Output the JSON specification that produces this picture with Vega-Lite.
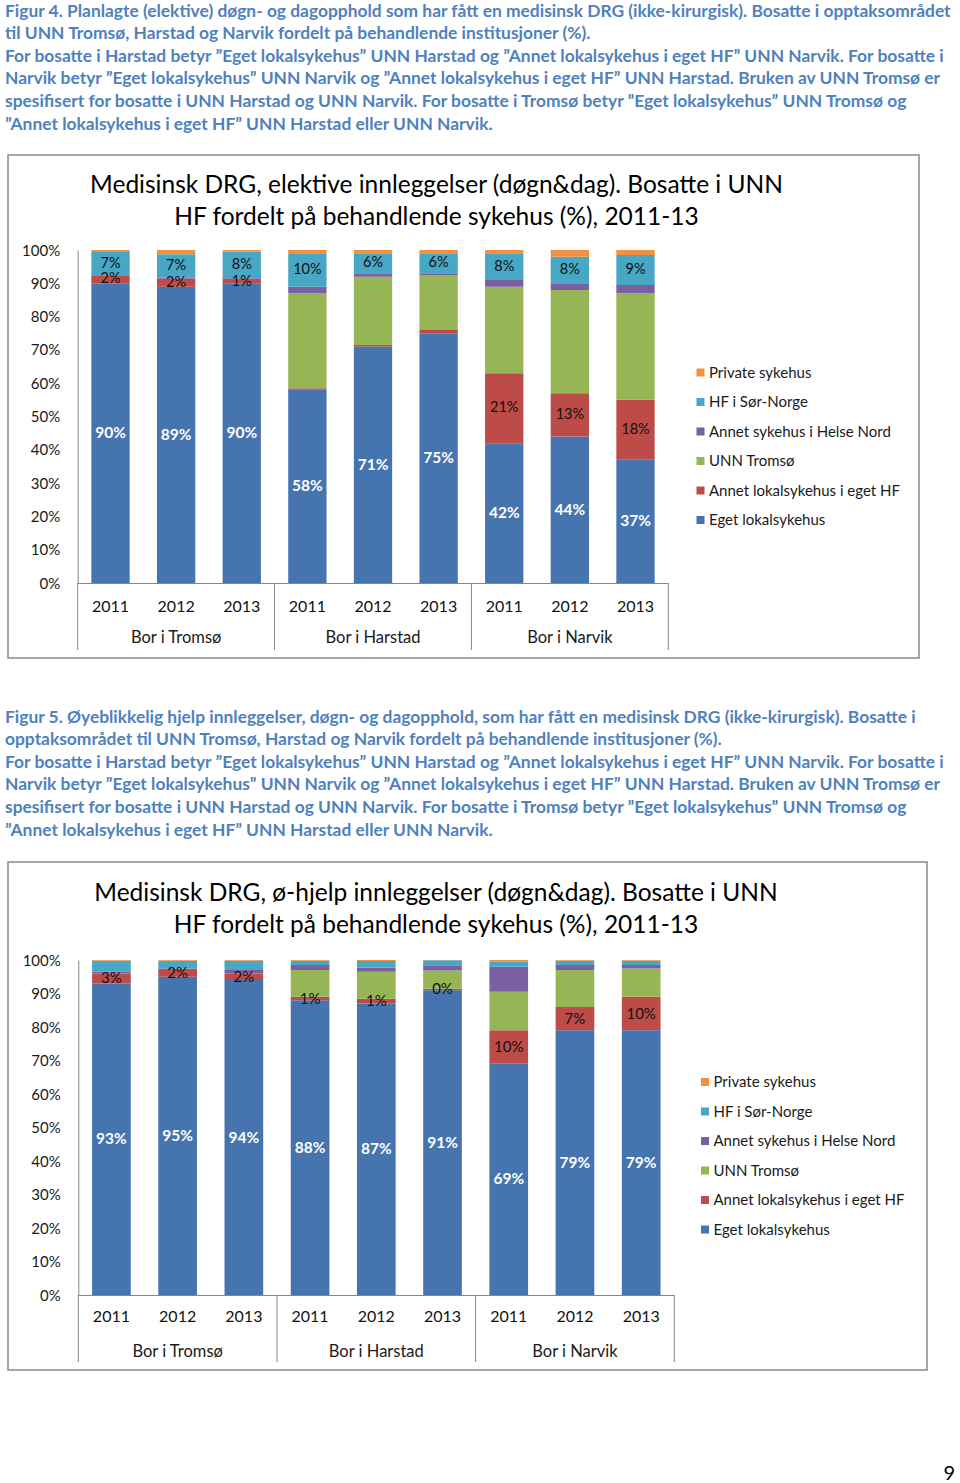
{
  "$schema": "https://vega.github.io/schema/vega-lite/v6.json",
  "padding": {"left": 5, "top": 0, "right": 0, "bottom": 0},
  "background": "white",
  "spacing": 0,
  "bounds": "flush",
  "resolve": {"scale": {"color": "independent"}, "legend": {"color": "independent"}},
  "config": {"font": "Lato", "view": {"stroke": null}},
  "datasets": {
    "elek": [
      {"key": "Tromsø 2011", "cat": "Eget lokalsykehus", "o": 1, "v": 0.90},
      {"key": "Tromsø 2011", "cat": "Annet lokalsykehus i eget HF", "o": 2, "v": 0.024},
      {"key": "Tromsø 2011", "cat": "UNN Tromsø", "o": 3, "v": 0},
      {"key": "Tromsø 2011", "cat": "Annet sykehus i Helse Nord", "o": 4, "v": 0},
      {"key": "Tromsø 2011", "cat": "HF i Sør-Norge", "o": 5, "v": 0.07},
      {"key": "Tromsø 2011", "cat": "Private sykehus", "o": 6, "v": 0.006},
      {"key": "Tromsø 2012", "cat": "Eget lokalsykehus", "o": 1, "v": 0.89},
      {"key": "Tromsø 2012", "cat": "Annet lokalsykehus i eget HF", "o": 2, "v": 0.024},
      {"key": "Tromsø 2012", "cat": "UNN Tromsø", "o": 3, "v": 0},
      {"key": "Tromsø 2012", "cat": "Annet sykehus i Helse Nord", "o": 4, "v": 0.003},
      {"key": "Tromsø 2012", "cat": "HF i Sør-Norge", "o": 5, "v": 0.07},
      {"key": "Tromsø 2012", "cat": "Private sykehus", "o": 6, "v": 0.013},
      {"key": "Tromsø 2013", "cat": "Eget lokalsykehus", "o": 1, "v": 0.90},
      {"key": "Tromsø 2013", "cat": "Annet lokalsykehus i eget HF", "o": 2, "v": 0.01},
      {"key": "Tromsø 2013", "cat": "UNN Tromsø", "o": 3, "v": 0},
      {"key": "Tromsø 2013", "cat": "Annet sykehus i Helse Nord", "o": 4, "v": 0.005},
      {"key": "Tromsø 2013", "cat": "HF i Sør-Norge", "o": 5, "v": 0.08},
      {"key": "Tromsø 2013", "cat": "Private sykehus", "o": 6, "v": 0.005},
      {"key": "Harstad 2011", "cat": "Eget lokalsykehus", "o": 1, "v": 0.58},
      {"key": "Harstad 2011", "cat": "Annet lokalsykehus i eget HF", "o": 2, "v": 0.005},
      {"key": "Harstad 2011", "cat": "UNN Tromsø", "o": 3, "v": 0.285},
      {"key": "Harstad 2011", "cat": "Annet sykehus i Helse Nord", "o": 4, "v": 0.02},
      {"key": "Harstad 2011", "cat": "HF i Sør-Norge", "o": 5, "v": 0.10},
      {"key": "Harstad 2011", "cat": "Private sykehus", "o": 6, "v": 0.01},
      {"key": "Harstad 2012", "cat": "Eget lokalsykehus", "o": 1, "v": 0.71},
      {"key": "Harstad 2012", "cat": "Annet lokalsykehus i eget HF", "o": 2, "v": 0.005},
      {"key": "Harstad 2012", "cat": "UNN Tromsø", "o": 3, "v": 0.205},
      {"key": "Harstad 2012", "cat": "Annet sykehus i Helse Nord", "o": 4, "v": 0.01},
      {"key": "Harstad 2012", "cat": "HF i Sør-Norge", "o": 5, "v": 0.06},
      {"key": "Harstad 2012", "cat": "Private sykehus", "o": 6, "v": 0.01},
      {"key": "Harstad 2013", "cat": "Eget lokalsykehus", "o": 1, "v": 0.75},
      {"key": "Harstad 2013", "cat": "Annet lokalsykehus i eget HF", "o": 2, "v": 0.01},
      {"key": "Harstad 2013", "cat": "UNN Tromsø", "o": 3, "v": 0.165},
      {"key": "Harstad 2013", "cat": "Annet sykehus i Helse Nord", "o": 4, "v": 0.005},
      {"key": "Harstad 2013", "cat": "HF i Sør-Norge", "o": 5, "v": 0.06},
      {"key": "Harstad 2013", "cat": "Private sykehus", "o": 6, "v": 0.01},
      {"key": "Narvik 2011", "cat": "Eget lokalsykehus", "o": 1, "v": 0.42},
      {"key": "Narvik 2011", "cat": "Annet lokalsykehus i eget HF", "o": 2, "v": 0.21},
      {"key": "Narvik 2011", "cat": "UNN Tromsø", "o": 3, "v": 0.26},
      {"key": "Narvik 2011", "cat": "Annet sykehus i Helse Nord", "o": 4, "v": 0.02},
      {"key": "Narvik 2011", "cat": "HF i Sør-Norge", "o": 5, "v": 0.08},
      {"key": "Narvik 2011", "cat": "Private sykehus", "o": 6, "v": 0.01},
      {"key": "Narvik 2012", "cat": "Eget lokalsykehus", "o": 1, "v": 0.44},
      {"key": "Narvik 2012", "cat": "Annet lokalsykehus i eget HF", "o": 2, "v": 0.13},
      {"key": "Narvik 2012", "cat": "UNN Tromsø", "o": 3, "v": 0.31},
      {"key": "Narvik 2012", "cat": "Annet sykehus i Helse Nord", "o": 4, "v": 0.02},
      {"key": "Narvik 2012", "cat": "HF i Sør-Norge", "o": 5, "v": 0.08},
      {"key": "Narvik 2012", "cat": "Private sykehus", "o": 6, "v": 0.02},
      {"key": "Narvik 2013", "cat": "Eget lokalsykehus", "o": 1, "v": 0.37},
      {"key": "Narvik 2013", "cat": "Annet lokalsykehus i eget HF", "o": 2, "v": 0.18},
      {"key": "Narvik 2013", "cat": "UNN Tromsø", "o": 3, "v": 0.32},
      {"key": "Narvik 2013", "cat": "Annet sykehus i Helse Nord", "o": 4, "v": 0.025},
      {"key": "Narvik 2013", "cat": "HF i Sør-Norge", "o": 5, "v": 0.09},
      {"key": "Narvik 2013", "cat": "Private sykehus", "o": 6, "v": 0.015}
    ],
    "akutt": [
      {"key": "Tromsø 2011", "cat": "Eget lokalsykehus", "o": 1, "v": 0.93},
      {"key": "Tromsø 2011", "cat": "Annet lokalsykehus i eget HF", "o": 2, "v": 0.03},
      {"key": "Tromsø 2011", "cat": "UNN Tromsø", "o": 3, "v": 0},
      {"key": "Tromsø 2011", "cat": "Annet sykehus i Helse Nord", "o": 4, "v": 0.005},
      {"key": "Tromsø 2011", "cat": "HF i Sør-Norge", "o": 5, "v": 0.033},
      {"key": "Tromsø 2011", "cat": "Private sykehus", "o": 6, "v": 0.002},
      {"key": "Tromsø 2012", "cat": "Eget lokalsykehus", "o": 1, "v": 0.95},
      {"key": "Tromsø 2012", "cat": "Annet lokalsykehus i eget HF", "o": 2, "v": 0.02},
      {"key": "Tromsø 2012", "cat": "UNN Tromsø", "o": 3, "v": 0},
      {"key": "Tromsø 2012", "cat": "Annet sykehus i Helse Nord", "o": 4, "v": 0.005},
      {"key": "Tromsø 2012", "cat": "HF i Sør-Norge", "o": 5, "v": 0.023},
      {"key": "Tromsø 2012", "cat": "Private sykehus", "o": 6, "v": 0.002},
      {"key": "Tromsø 2013", "cat": "Eget lokalsykehus", "o": 1, "v": 0.94},
      {"key": "Tromsø 2013", "cat": "Annet lokalsykehus i eget HF", "o": 2, "v": 0.02},
      {"key": "Tromsø 2013", "cat": "UNN Tromsø", "o": 3, "v": 0},
      {"key": "Tromsø 2013", "cat": "Annet sykehus i Helse Nord", "o": 4, "v": 0.01},
      {"key": "Tromsø 2013", "cat": "HF i Sør-Norge", "o": 5, "v": 0.028},
      {"key": "Tromsø 2013", "cat": "Private sykehus", "o": 6, "v": 0.002},
      {"key": "Harstad 2011", "cat": "Eget lokalsykehus", "o": 1, "v": 0.88},
      {"key": "Harstad 2011", "cat": "Annet lokalsykehus i eget HF", "o": 2, "v": 0.01},
      {"key": "Harstad 2011", "cat": "UNN Tromsø", "o": 3, "v": 0.08},
      {"key": "Harstad 2011", "cat": "Annet sykehus i Helse Nord", "o": 4, "v": 0.015},
      {"key": "Harstad 2011", "cat": "HF i Sør-Norge", "o": 5, "v": 0.013},
      {"key": "Harstad 2011", "cat": "Private sykehus", "o": 6, "v": 0.002},
      {"key": "Harstad 2012", "cat": "Eget lokalsykehus", "o": 1, "v": 0.87},
      {"key": "Harstad 2012", "cat": "Annet lokalsykehus i eget HF", "o": 2, "v": 0.014},
      {"key": "Harstad 2012", "cat": "UNN Tromsø", "o": 3, "v": 0.081},
      {"key": "Harstad 2012", "cat": "Annet sykehus i Helse Nord", "o": 4, "v": 0.012},
      {"key": "Harstad 2012", "cat": "HF i Sør-Norge", "o": 5, "v": 0.02},
      {"key": "Harstad 2012", "cat": "Private sykehus", "o": 6, "v": 0.003},
      {"key": "Harstad 2013", "cat": "Eget lokalsykehus", "o": 1, "v": 0.91},
      {"key": "Harstad 2013", "cat": "Annet lokalsykehus i eget HF", "o": 2, "v": 0.004},
      {"key": "Harstad 2013", "cat": "UNN Tromsø", "o": 3, "v": 0.055},
      {"key": "Harstad 2013", "cat": "Annet sykehus i Helse Nord", "o": 4, "v": 0.015},
      {"key": "Harstad 2013", "cat": "HF i Sør-Norge", "o": 5, "v": 0.015},
      {"key": "Harstad 2013", "cat": "Private sykehus", "o": 6, "v": 0.001},
      {"key": "Narvik 2011", "cat": "Eget lokalsykehus", "o": 1, "v": 0.69},
      {"key": "Narvik 2011", "cat": "Annet lokalsykehus i eget HF", "o": 2, "v": 0.10},
      {"key": "Narvik 2011", "cat": "UNN Tromsø", "o": 3, "v": 0.115},
      {"key": "Narvik 2011", "cat": "Annet sykehus i Helse Nord", "o": 4, "v": 0.075},
      {"key": "Narvik 2011", "cat": "HF i Sør-Norge", "o": 5, "v": 0.015},
      {"key": "Narvik 2011", "cat": "Private sykehus", "o": 6, "v": 0.005},
      {"key": "Narvik 2012", "cat": "Eget lokalsykehus", "o": 1, "v": 0.79},
      {"key": "Narvik 2012", "cat": "Annet lokalsykehus i eget HF", "o": 2, "v": 0.07},
      {"key": "Narvik 2012", "cat": "UNN Tromsø", "o": 3, "v": 0.11},
      {"key": "Narvik 2012", "cat": "Annet sykehus i Helse Nord", "o": 4, "v": 0.015},
      {"key": "Narvik 2012", "cat": "HF i Sør-Norge", "o": 5, "v": 0.013},
      {"key": "Narvik 2012", "cat": "Private sykehus", "o": 6, "v": 0.002},
      {"key": "Narvik 2013", "cat": "Eget lokalsykehus", "o": 1, "v": 0.79},
      {"key": "Narvik 2013", "cat": "Annet lokalsykehus i eget HF", "o": 2, "v": 0.10},
      {"key": "Narvik 2013", "cat": "UNN Tromsø", "o": 3, "v": 0.085},
      {"key": "Narvik 2013", "cat": "Annet sykehus i Helse Nord", "o": 4, "v": 0.01},
      {"key": "Narvik 2013", "cat": "HF i Sør-Norge", "o": 5, "v": 0.013},
      {"key": "Narvik 2013", "cat": "Private sykehus", "o": 6, "v": 0.002}
    ]
  },
  "vconcat": [
    {
      "width": 911, "height": 155,
      "data": {"values": []},
      "mark": "text",
      "title": {
        "text": [
          "Figur 4. Planlagte (elektive) døgn- og dagopphold som har fått en medisinsk DRG (ikke-kirurgisk). Bosatte i opptaksområdet",
          "til UNN Tromsø, Harstad og Narvik fordelt på behandlende institusjoner (%).",
          "For bosatte i Harstad betyr ”Eget lokalsykehus” UNN Harstad og ”Annet lokalsykehus i eget HF” UNN Narvik.  For bosatte i",
          "Narvik betyr ”Eget lokalsykehus” UNN Narvik og ”Annet lokalsykehus i eget HF” UNN Harstad. Bruken av UNN Tromsø er",
          "spesifisert for bosatte i UNN Harstad og UNN Narvik. For bosatte i Tromsø betyr ”Eget lokalsykehus” UNN Tromsø og",
          "”Annet lokalsykehus i eget HF” UNN Harstad eller UNN Narvik."
        ],
        "anchor": "start", "frame": "group", "baseline": "top", "offset": -133, "dx": -3,
        "fontSize": 17.4, "fontWeight": "bold", "color": "#4F81BD", "lineHeight": 22.6, "limit": 2000
      }
    },
    {
      "width": 911, "height": 503,
      "view": {"stroke": "#8a8a8a", "strokeWidth": 1.5},
      "title": {
        "text": ["Medisinsk DRG, elektive innleggelser (døgn&dag). Bosatte i UNN", "HF fordelt på behandlende sykehus (%), 2011-13"],
        "anchor": "middle", "frame": "group", "baseline": "top", "offset": -75, "dx": -27,
        "fontSize": 24.5, "fontWeight": "normal", "color": "#000000", "lineHeight": 32, "limit": 2000
      },
      "layer": [
        {
          "data": {"name": "elek"},
          "transform": [{"stack": "v", "groupby": ["key"], "sort": [{"field": "o", "order": "ascending"}], "as": ["y0", "y1"]}],
          "mark": {"type": "bar"},
          "encoding": {
            "x": {"field": "key", "type": "nominal", "title": null,
              "scale": {"domain": ["Tromsø 2011", "Tromsø 2012", "Tromsø 2013", "Harstad 2011", "Harstad 2012", "Harstad 2013", "Narvik 2011", "Narvik 2012", "Narvik 2013"], "range": [69.7, 660.3], "paddingInner": 0.416, "paddingOuter": 0.208},
              "axis": {"title": null, "labelExpr": "slice(datum.value, -4)", "ticks": false, "tickSize": 0, "labelPadding": 15, "labelFontSize": 16, "labelColor": "#111111", "labelAngle": 0, "domainColor": "#868686", "offset": -75, "grid": false}},
            "y": {"field": "y0", "type": "quantitative", "title": null,
              "scale": {"domain": [0, 1], "range": [428, 95], "nice": false, "zero": false},
              "axis": {"title": null, "values": [0, 0.1, 0.2, 0.3, 0.4, 0.5, 0.6, 0.7, 0.8, 0.9, 1], "format": ".0%", "ticks": false, "tickSize": 0, "labelPadding": 18, "labelFontSize": 15, "labelColor": "#1a1a1a", "domainColor": "#868686", "offset": -69.7, "grid": false}},
            "y2": {"field": "y1"},
            "color": {"field": "cat", "type": "nominal",
              "scale": {"domain": ["Private sykehus", "HF i Sør-Norge", "Annet sykehus i Helse Nord", "UNN Tromsø", "Annet lokalsykehus i eget HF", "Eget lokalsykehus"], "range": ["#F0913F", "#48A7C4", "#7C5FA0", "#96B655", "#BD4B48", "#4674AE"]},
              "legend": {"title": null, "orient": "none", "legendX": 685, "legendY": 210, "symbolType": "square", "symbolSize": 64, "symbolStrokeWidth": 0, "labelFontSize": 15, "labelLimit": 400, "labelColor": "#1a1a1a", "rowPadding": 13.5, "labelOffset": 1, "padding": 0}}
          }
        },
        {
          "data": {"name": "elek"},
          "transform": [
            {"stack": "v", "groupby": ["key"], "sort": [{"field": "o", "order": "ascending"}], "as": ["y0", "y1"]},
            {"calculate": "(datum.y0 + datum.y1) / 2", "as": "ym"},
            {"filter": "datum.cat == 'Eget lokalsykehus'"}
          ],
          "mark": {"type": "text", "color": "white", "fontWeight": "bold", "fontSize": 15.5, "baseline": "middle"},
          "encoding": {
            "x": {"field": "key", "type": "nominal", "title": null},
            "y": {"field": "ym", "type": "quantitative", "title": null},
            "text": {"field": "v", "type": "quantitative", "format": ".0%"}
          }
        },
        {
          "data": {"name": "elek"},
          "transform": [
            {"stack": "v", "groupby": ["key"], "sort": [{"field": "o", "order": "ascending"}], "as": ["y0", "y1"]},
            {"calculate": "(datum.y0 + datum.y1) / 2", "as": "ym"},
            {"filter": "datum.cat == 'HF i Sør-Norge' || (datum.cat == 'Annet lokalsykehus i eget HF' && indexof(datum.key, 'Harstad') < 0)"}
          ],
          "mark": {"type": "text", "color": "#111111", "fontSize": 14.5, "baseline": "middle"},
          "encoding": {
            "x": {"field": "key", "type": "nominal", "title": null},
            "y": {"field": "ym", "type": "quantitative", "title": null},
            "text": {"field": "v", "type": "quantitative", "format": ".0%"}
          }
        },
        {
          "data": {"values": [{"key": "Tromsø 2011"}, {"key": "Harstad 2011"}, {"key": "Narvik 2011"}]},
          "mark": {"type": "rule", "color": "#868686", "strokeWidth": 1, "xOffset": -13.66},
          "encoding": {
            "x": {"field": "key", "type": "nominal", "bandPosition": 0, "title": null},
            "y": {"datum": 0, "type": "quantitative"},
            "y2": {"datum": -0.201}
          }
        },
        {
          "data": {"values": [{"key": "Narvik 2013"}]},
          "mark": {"type": "rule", "color": "#868686", "strokeWidth": 1, "xOffset": 13.66},
          "encoding": {
            "x": {"field": "key", "type": "nominal", "bandPosition": 1, "title": null},
            "y": {"datum": 0, "type": "quantitative"},
            "y2": {"datum": -0.201}
          }
        },
        {
          "data": {"values": [{"key": "Tromsø 2012", "label": "Bor i Tromsø"}, {"key": "Harstad 2012", "label": "Bor i Harstad"}, {"key": "Narvik 2012", "label": "Bor i Narvik"}]},
          "mark": {"type": "text", "fontSize": 16.5, "color": "#1a1a1a", "baseline": "middle"},
          "encoding": {
            "x": {"field": "key", "type": "nominal", "title": null},
            "y": {"datum": -0.165, "type": "quantitative"},
            "text": {"field": "label"}
          }
        }
      ]
    },
    {
      "width": 911, "height": 204,
      "data": {"values": []},
      "mark": "text",
      "title": {
        "text": [
          "Figur 5. Øyeblikkelig hjelp innleggelser, døgn- og dagopphold, som har fått en medisinsk DRG (ikke-kirurgisk). Bosatte i",
          "opptaksområdet til UNN Tromsø, Harstad og Narvik fordelt på behandlende institusjoner (%).",
          "For bosatte i Harstad betyr ”Eget lokalsykehus” UNN Harstad og ”Annet lokalsykehus i eget HF” UNN Narvik.  For bosatte i",
          "Narvik betyr ”Eget lokalsykehus” UNN Narvik og ”Annet lokalsykehus i eget HF” UNN Harstad. Bruken av UNN Tromsø er",
          "spesifisert for bosatte i UNN Harstad og UNN Narvik. For bosatte i Tromsø betyr ”Eget lokalsykehus” UNN Tromsø og",
          "”Annet lokalsykehus i eget HF” UNN Harstad eller UNN Narvik."
        ],
        "anchor": "start", "frame": "group", "baseline": "top", "offset": -180.9, "dx": -3,
        "fontSize": 17.4, "fontWeight": "bold", "color": "#4F81BD", "lineHeight": 22.6, "limit": 2000
      }
    },
    {
      "width": 919, "height": 508,
      "view": {"stroke": "#8a8a8a", "strokeWidth": 1.5},
      "title": {
        "text": ["Medisinsk DRG, ø-hjelp innleggelser (døgn&dag). Bosatte i UNN", "HF fordelt på behandlende sykehus (%), 2011-13"],
        "anchor": "middle", "frame": "group", "baseline": "top", "offset": -76, "dx": -31.5,
        "fontSize": 24.5, "fontWeight": "normal", "color": "#000000", "lineHeight": 32, "limit": 2000
      },
      "layer": [
        {
          "data": {"name": "akutt"},
          "transform": [{"stack": "v", "groupby": ["key"], "sort": [{"field": "o", "order": "ascending"}], "as": ["y0", "y1"]}],
          "mark": {"type": "bar"},
          "encoding": {
            "x": {"field": "key", "type": "nominal", "title": null,
              "scale": {"domain": ["Tromsø 2011", "Tromsø 2012", "Tromsø 2013", "Harstad 2011", "Harstad 2012", "Harstad 2013", "Narvik 2011", "Narvik 2012", "Narvik 2013"], "range": [70.3, 666.3], "paddingInner": 0.416, "paddingOuter": 0.208},
              "axis": {"title": null, "labelExpr": "slice(datum.value, -4)", "ticks": false, "tickSize": 0, "labelPadding": 13.5, "labelFontSize": 16, "labelColor": "#111111", "labelAngle": 0, "domainColor": "#868686", "offset": -75, "grid": false}},
            "y": {"field": "y0", "type": "quantitative", "title": null,
              "scale": {"domain": [0, 1], "range": [433, 98], "nice": false, "zero": false},
              "axis": {"title": null, "values": [0, 0.1, 0.2, 0.3, 0.4, 0.5, 0.6, 0.7, 0.8, 0.9, 1], "format": ".0%", "ticks": false, "tickSize": 0, "labelPadding": 18, "labelFontSize": 15, "labelColor": "#1a1a1a", "domainColor": "#868686", "offset": -70.3, "grid": false}},
            "y2": {"field": "y1"},
            "color": {"field": "cat", "type": "nominal",
              "scale": {"domain": ["Private sykehus", "HF i Sør-Norge", "Annet sykehus i Helse Nord", "UNN Tromsø", "Annet lokalsykehus i eget HF", "Eget lokalsykehus"], "range": ["#F0913F", "#48A7C4", "#7C5FA0", "#96B655", "#BD4B48", "#4674AE"]},
              "legend": {"title": null, "orient": "none", "legendX": 689.5, "legendY": 212.5, "symbolType": "square", "symbolSize": 64, "symbolStrokeWidth": 0, "labelFontSize": 15, "labelLimit": 400, "labelColor": "#1a1a1a", "rowPadding": 13.5, "labelOffset": 1, "padding": 0}}
          }
        },
        {
          "data": {"name": "akutt"},
          "transform": [
            {"stack": "v", "groupby": ["key"], "sort": [{"field": "o", "order": "ascending"}], "as": ["y0", "y1"]},
            {"calculate": "(datum.y0 + datum.y1) / 2", "as": "ym"},
            {"filter": "datum.cat == 'Eget lokalsykehus'"}
          ],
          "mark": {"type": "text", "color": "white", "fontWeight": "bold", "fontSize": 15.5, "baseline": "middle"},
          "encoding": {
            "x": {"field": "key", "type": "nominal", "title": null},
            "y": {"field": "ym", "type": "quantitative", "title": null},
            "text": {"field": "v", "type": "quantitative", "format": ".0%"}
          }
        },
        {
          "data": {"name": "akutt"},
          "transform": [
            {"stack": "v", "groupby": ["key"], "sort": [{"field": "o", "order": "ascending"}], "as": ["y0", "y1"]},
            {"calculate": "(datum.y0 + datum.y1) / 2", "as": "ym"},
            {"filter": "datum.cat == 'Annet lokalsykehus i eget HF'"}
          ],
          "mark": {"type": "text", "color": "#111111", "fontSize": 15, "baseline": "middle"},
          "encoding": {
            "x": {"field": "key", "type": "nominal", "title": null},
            "y": {"field": "ym", "type": "quantitative", "title": null},
            "text": {"field": "v", "type": "quantitative", "format": ".0%"}
          }
        },
        {
          "data": {"values": [{"key": "Tromsø 2011"}, {"key": "Harstad 2011"}, {"key": "Narvik 2011"}]},
          "mark": {"type": "rule", "color": "#868686", "strokeWidth": 1, "xOffset": -13.77},
          "encoding": {
            "x": {"field": "key", "type": "nominal", "bandPosition": 0, "title": null},
            "y": {"datum": 0, "type": "quantitative"},
            "y2": {"datum": -0.2}
          }
        },
        {
          "data": {"values": [{"key": "Narvik 2013"}]},
          "mark": {"type": "rule", "color": "#868686", "strokeWidth": 1, "xOffset": 13.77},
          "encoding": {
            "x": {"field": "key", "type": "nominal", "bandPosition": 1, "title": null},
            "y": {"datum": 0, "type": "quantitative"},
            "y2": {"datum": -0.2}
          }
        },
        {
          "data": {"values": [{"key": "Tromsø 2012", "label": "Bor i Tromsø"}, {"key": "Harstad 2012", "label": "Bor i Harstad"}, {"key": "Narvik 2012", "label": "Bor i Narvik"}]},
          "mark": {"type": "text", "fontSize": 16.5, "color": "#1a1a1a", "baseline": "middle"},
          "encoding": {
            "x": {"field": "key", "type": "nominal", "title": null},
            "y": {"datum": -0.17, "type": "quantitative"},
            "text": {"field": "label"}
          }
        }
      ]
    },
    {
      "width": 947, "height": 113,
      "data": {"values": []},
      "mark": "text",
      "title": {"text": "9", "anchor": "end", "frame": "group", "baseline": "top", "offset": -114.4, "fontSize": 20, "fontWeight": "normal", "color": "#000000"}
    }
  ]
}
